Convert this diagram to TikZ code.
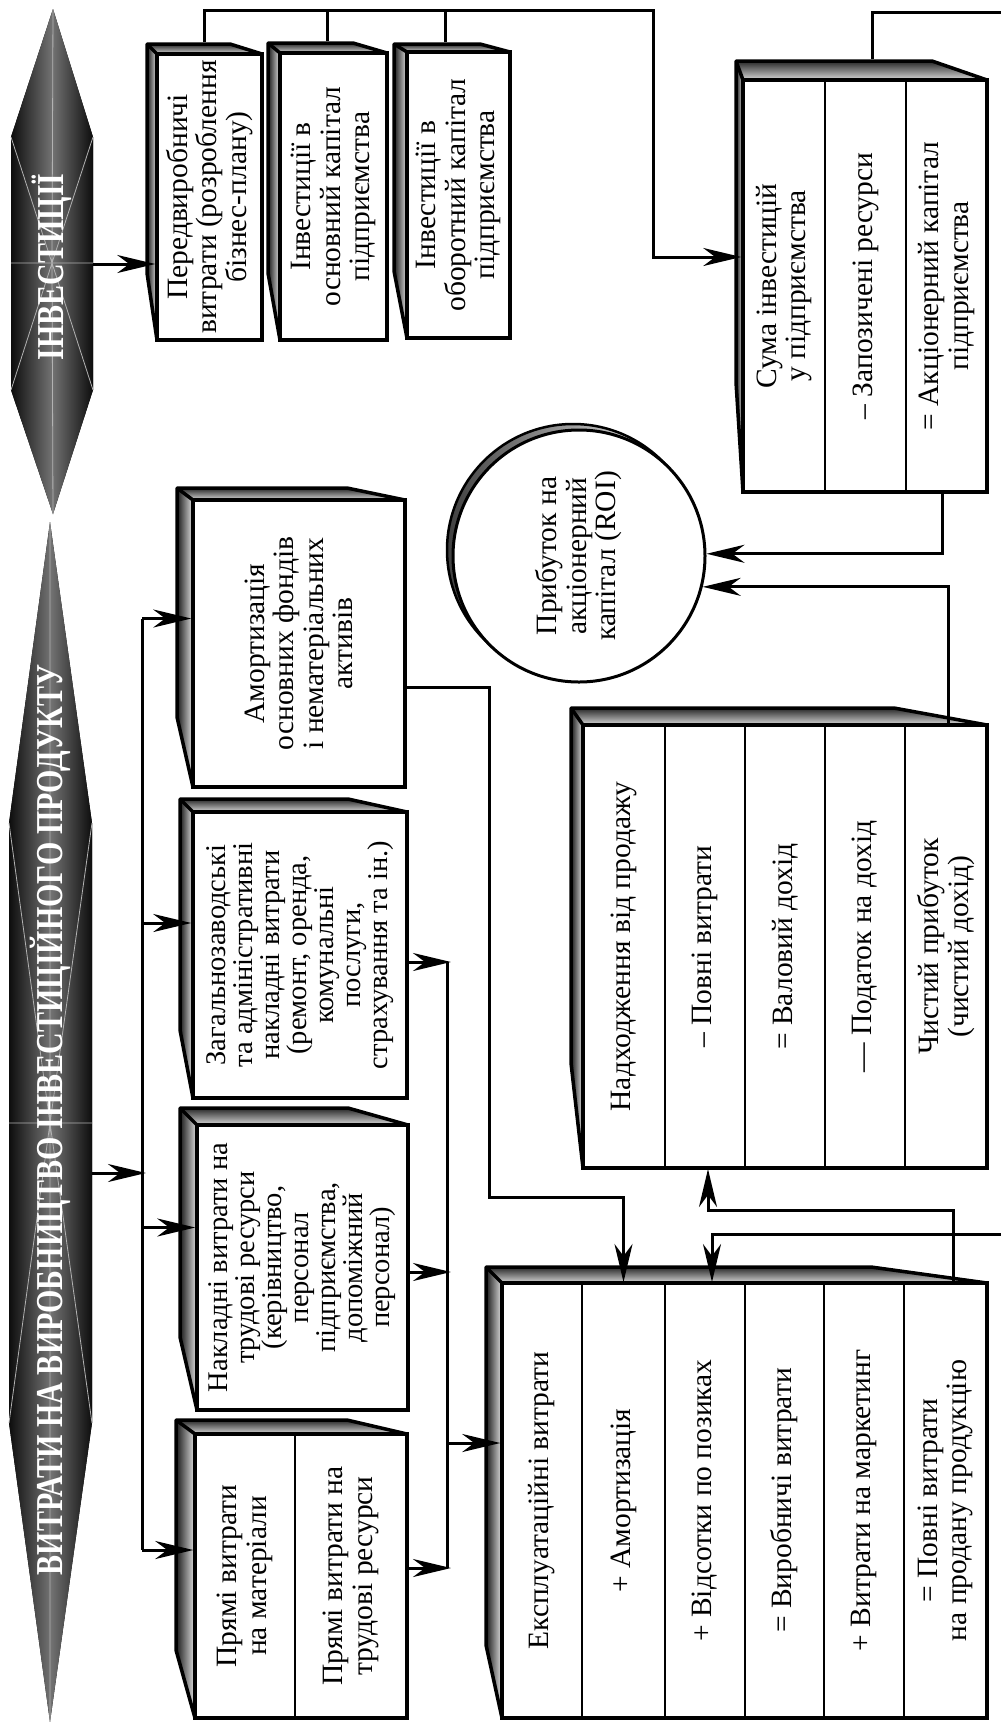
\documentclass[tikz,border=0pt]{standalone}
\usepackage{fontspec}
\setmainfont{Liberation Serif}
\usetikzlibrary{arrows.meta,fit}
\begin{document}
\begin{tikzpicture}[x=1pt,y=-1pt,
    txt/.style={rotate=90,align=center,inner sep=0pt,font=\fontsize{29.5}{29.5}\selectfont},
    hextxt/.style={rotate=90,inner sep=0pt,text=white,font=\fontsize{38}{38}\selectfont\bfseries},
    facebox/.style={draw,line width=3.5pt,inner sep=0pt,fill=white},
    colbox/.style={draw,line width=2pt,inner sep=0pt},
    conn/.style={line width=3pt},
    arr/.style={conn,-{Stealth[length=38pt,width=18pt,inset=12pt]}},
    sideshade/.style={left color=black!90,right color=black!12},
    topshade/.style={top color=black!85,bottom color=black!15},
    hexshade/.style={left color=black!95,right color=black!95,middle color=black!55},
    streak/.style={gray!60,line width=0.8pt}]
\useasboundingbox (0,0) rectangle (1001,1722);

% hexagons
\fill[hexshade] (53,9) -- (93,137) -- (93,390) -- (53,514) -- (11,390) -- (11,137) -- cycle;
\draw[streak] (11,263) -- (93,263)
  \foreach \vx/\vy in {53/9,93/137,93/390,53/514,11/390,11/137} {(52,263) -- (\vx,\vy)};
\fill[hexshade] (50,522) -- (92,823) -- (92,1423) -- (50,1722) -- (9,1423) -- (9,823) -- cycle;
\draw[streak] (9,1123) -- (92,1123)
  \foreach \vx/\vy in {50/522,92/823,92/1423,50/1722,9/1423,9/823} {(50,1123) -- (\vx,\vy)};
\node[hextxt] (inv) at (52,267) {\scalebox{0.79}[1]{ІНВЕСТИЦІЇ}};
\node[hextxt] (vyt) at (50,1120) {\scalebox{0.79}[1]{ВИТРАТИ НА ВИРОБНИЦТВО ІНВЕСТИЦІЙНОГО ПРОДУКТУ}};
\coordinate (inv-e) at (93,264);
\coordinate (vyt-e) at (92,1173);

% 3d edges of the boxes
\foreach \xa/\ya/\xb/\yb/\sx/\sy/\lo/\tr in {
  157/54/262/340/10/10/67/32, 280/53/387/340/12/10/67/34, 407/52/510/338/13/8/67/30,
  743/80/987/492/7/19/110/55,
  193/500/405/787/16/12/70/58, 193/812/407/1098/13/13/68/59,
  197/1125/408/1410/17/17/73/60, 195/1434/407/1718/19/14/68/60,
  583/725/987/1168/12/17/105/93, 502/1283/987/1718/16/16/73/116}{
  \fill[sideshade] (\xa,\ya) -- (\xa-\sx,\ya-\sy) -- (\xa-\sx,\yb-\lo) -- (\xa,\yb) -- cycle;
  \fill[topshade] (\xa,\ya) -- (\xa-\sx,\ya-\sy) -- (\xb-\tr,\ya-\sy) -- (\xb,\ya) -- cycle;
  \draw[line width=3.5pt,line join=round] (\xa,\yb) -- (\xa-\sx,\yb-\lo) -- (\xa-\sx,\ya-\sy)
    -- (\xb-\tr,\ya-\sy) -- (\xb,\ya) (\xa-\sx,\ya-\sy) -- (\xa,\ya);
}

% investments
\node[facebox,fit={(157,54) (262,340)}] (pre) {};
\node[facebox,fit={(280,53) (387,340)}] (osn) {};
\node[facebox,fit={(407,52) (510,338)}] (obor) {};
\node[txt] (pre-t) at (pre) {Передвиробничі\\витрати (розроблення\\бізнес-плану)};
\node[txt] (osn-t) at (osn) {Інвестиції в\\основний капітал\\підприємства};
\node[txt] (obor-t) at (obor) {Інвестиції в\\оборотний капітал\\підприємства};

\node[facebox,fit={(743,80) (987,492)}] (sum) {};
\foreach \i/\xl/\xr in {1/743/825,2/825/906,3/906/987}
  \node[colbox,fit={(\xl,80) (\xr,492)}] (sum\i) {};
\node[txt] (sum1-t) at (sum1) {Сума інвестицій\\у підприємства};
\node[txt] (sum2-t) at (sum2) {– Запозичені ресурси};
\node[txt] (sum3-t) at (sum3) {= Акціонерний капітал\\підприємства};

% return on capital
\draw[line width=2.5pt,left color=black!75,right color=white] (573,550) circle[radius=126pt];
\node[circle,draw,line width=3pt,fill=white,minimum size=252pt,inner sep=0pt] (roi) at (579,556) {};
\node[txt] (roi-t) at (roi) {Прибуток на\\акціонерний\\капітал (ROI)};

% production costs
\node[facebox,fit={(193,500) (405,787)}] (amort) {};
\node[facebox,fit={(193,812) (407,1098)}] (zag) {};
\node[facebox,fit={(197,1125) (408,1410)}] (nakl) {};
\node[facebox,fit={(195,1434) (407,1718)}] (pr) {};
\node[colbox,fit={(195,1434) (295,1718)}] (pr1) {};
\node[colbox,fit={(295,1434) (407,1718)}] (pr2) {};
\node[txt] (amort-t) at (amort) {Амортизація\\основних фондів\\і нематеріальних\\активів};
\node[txt,font=\fontsize{28.5}{27}\selectfont] (zag-t) at (zag) {Загальнозаводські\\та адміністративні\\накладні витрати\\(ремонт, оренда,\\комунальні\\послуги,\\страхування та ін.)};
\node[txt,font=\fontsize{28.5}{27}\selectfont] (nakl-t) at (nakl) {Накладні витрати на\\трудові ресурси\\(керівництво,\\персонал\\підприємства,\\допоміжний\\персонал)};
\node[txt] (pr1-t) at (pr1) {Прямі витрати\\на матеріали};
\node[txt] (pr2-t) at (pr2) {Прямі витрати на\\трудові ресурси};

% sales and costs
\node[facebox,fit={(583,725) (987,1168)}] (nad) {};
\foreach \i/\xl/\xr in {1/583/665,2/665/745,3/745/825,4/825/905,5/905/987}
  \node[colbox,fit={(\xl,725) (\xr,1168)}] (nad\i) {};
\node[txt] (nad1-t) at (nad1) {Надходження від продажу};
\node[txt] (nad2-t) at (nad2) {– Повні витрати};
\node[txt] (nad3-t) at (nad3) {= Валовий дохід};
\node[txt] (nad4-t) at (nad4) {— Податок на дохід};
\node[txt] (nad5-t) at (nad5) {Чистий прибуток\\(чистий дохід)};

\node[facebox,fit={(502,1283) (987,1718)}] (eks) {};
\foreach \i/\xl/\xr in {1/502/582,2/582/665,3/665/745,4/745/824,5/824/904,6/904/987}
  \node[colbox,fit={(\xl,1283) (\xr,1718)}] (eks\i) {};
\node[txt] (eks1-t) at (eks1) {Експлуатаційні витрати};
\node[txt] (eks2-t) at (eks2) {+ Амортизація};
\node[txt] (eks3-t) at (eks3) {+ Відсотки по позиках};
\node[txt] (eks4-t) at (eks4) {= Виробничі витрати};
\node[txt] (eks5-t) at (eks5) {+ Витрати на маркетинг};
\node[txt] (eks6-t) at (eks6) {= Повні витрати\\на продану продукцію};

% connectors
\coordinate (tbus) at (653,10);
\coordinate (edge-a) at (1001,12);
\coordinate (edge-b) at (1001,1234);
\draw[arr] (inv-e) -- (pre.west |- inv-e);
\draw[arr] ([xshift=-5.5pt,yshift=10pt]pre.north) |- (tbus) |- ([yshift=29pt]sum.west);
\draw[conn] ([xshift=-6.5pt,yshift=10pt]osn.north) -- ([xshift=-6.5pt]osn.north |- tbus);
\draw[conn] ([xshift=-13.5pt,yshift=8pt]obor.north) -- ([xshift=-13.5pt]obor.north |- tbus);
\draw[conn] ([xshift=7pt,yshift=19pt]sum.north) |- (edge-a);
\draw[arr] ([xshift=77pt]sum.south) |- (roi.1);
\draw[arr] ([xshift=163pt]nad.north) |- (roi.-14);

\coordinate (bus1) at (142,1173);
\coordinate (a-in) at ([yshift=25pt]amort.west);
\coordinate (z-in) at ([yshift=32pt]zag.west);
\coordinate (n-in) at ([yshift=40pt]nakl.west);
\coordinate (p-in) at ([yshift=26pt]pr.west);
\draw[arr] (vyt-e) -- ([xshift=4pt]bus1);
\draw[conn] (bus1 |- a-in) -- (bus1 |- p-in);
\foreach \t in {a-in,z-in,n-in,p-in}
  \draw[arr] (bus1 |- \t) -- (\t);

\coordinate (bus2) at (447,1443);
\coordinate (z-out) at ([yshift=-7pt]zag.east);
\coordinate (n-out) at ([yshift=-4.5pt]nakl.east);
\coordinate (p-out) at ([yshift=8pt]pr.east);
\draw[conn] (z-out -| bus2) -- (p-out -| bus2);
\foreach \t in {z-out,n-out,p-out}
  \draw[arr] (\t) -- ([xshift=4pt]\t -| bus2);
\draw[arr] (bus2) -- (bus2 -| eks.west);

\coordinate (am-turn) at (489,1197);
\draw[arr] ([yshift=-43.5pt]amort.east) -| (am-turn) -| (eks2.north);
\draw[arr] ([xshift=8pt]eks6.north) |- ([xshift=3pt,yshift=-41pt]nad2.south) -- ([xshift=3pt]nad2.south);
\draw[arr] (edge-b) -| ([xshift=7pt]eks3.north);
\end{tikzpicture}
\end{document}
